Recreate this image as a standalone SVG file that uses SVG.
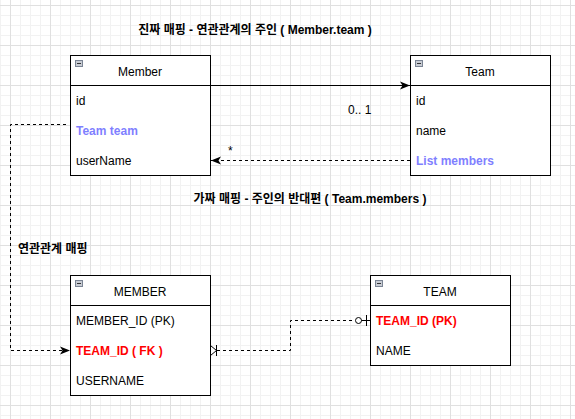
<svg xmlns="http://www.w3.org/2000/svg" width="575" height="419" viewBox="0 0 575 419">
<defs>
<pattern id="grid" x="10" y="5" width="40" height="40" patternUnits="userSpaceOnUse">
<path d="M10.5 0V40M20.5 0V40M30.5 0V40M0 10.5H40M0 20.5H40M0 30.5H40" stroke="#f2f2f2" stroke-width="1" fill="none"/>
<path d="M0.5 0V40M0 0.5H40" stroke="#e0e0e0" stroke-width="1" fill="none"/>
</pattern>
<marker id="arr" viewBox="0 0 10 10" refX="10" refY="5" markerWidth="10" markerHeight="10" markerUnits="userSpaceOnUse" orient="auto">
<path d="M0,1 L10,5 L0,9 L2.5,5 Z" fill="#000"/>
</marker>
<g id="icon">
<rect x="0.5" y="0.5" width="7" height="6" fill="#c8ccd4" stroke="#7a8494"/>
<line x1="2" y1="3.5" x2="6" y2="3.5" stroke="#333"/>
</g>
</defs>
<style>
text{font-family:"Liberation Sans",Arial,"Noto Sans CJK KR",sans-serif;font-size:12px;fill:#000}
.title{font-weight:bold}
.box{fill:#fff;stroke:#000;stroke-width:1}
.sep{stroke:#000;stroke-width:1}
.hdr{text-anchor:middle}
.blue{fill:#7f7fff;font-weight:bold}
.red{fill:#ff0000;font-weight:bold}
.dash{fill:none;stroke:#000;stroke-width:1;stroke-dasharray:3 3}
.solid{fill:none;stroke:#000;stroke-width:1}
</style>
<rect width="575" height="419" fill="#fff"/>
<rect width="575" height="419" fill="url(#grid)"/>

<g id="labels">
<text class="title" x="255" y="34" text-anchor="middle">진짜 매핑 - 연관관계의 주인 ( Member.team )</text>
<text class="title" x="310" y="203" text-anchor="middle">가짜 매핑 - 주인의 반대편 ( Team.members )</text>
<text class="title" x="18" y="253">연관관계 매핑</text>
</g>

<g id="connectors">
<line class="solid" x1="210.5" y1="85.5" x2="410" y2="85.5" marker-end="url(#arr)"/>
<text x="348" y="114">0.. 1</text>
<line class="dash" x1="410" y1="160.5" x2="211" y2="160.5" marker-end="url(#arr)"/>
<text x="228" y="155">*</text>
<polyline class="dash" points="66,124.5 10.5,124.5 10.5,350.5 70,350.5" marker-end="url(#arr)"/>
<polyline class="dash" points="217,350.5 290.5,350.5 290.5,320.5 355,320.5"/>
<path class="solid" d="M210.5,345.5 L216.5,350.5 L210.5,355.5 M216.5,345 V356"/>
<circle cx="358.5" cy="320.5" r="3" fill="#fff" stroke="#000"/>
<path class="solid" d="M361.5,320.5 H370.5 M366.5,315 V326"/>
</g>

<g id="Member">
<rect class="box" x="70.5" y="55.5" width="140" height="120"/>
<line class="sep" x1="70.5" y1="85.5" x2="210.5" y2="85.5"/>
<use href="#icon" x="75" y="60"/>
<text class="hdr" x="140" y="76">Member</text>
<text x="76" y="105">id</text>
<text class="blue" x="76" y="135">Team team</text>
<text x="76" y="165">userName</text>
</g>

<g id="Team">
<rect class="box" x="410.5" y="55.5" width="140" height="120"/>
<line class="sep" x1="410.5" y1="85.5" x2="550.5" y2="85.5"/>
<use href="#icon" x="415" y="60"/>
<text class="hdr" x="480" y="76">Team</text>
<text x="416" y="105">id</text>
<text x="416" y="135">name</text>
<text class="blue" x="416" y="165">List members</text>
</g>

<g id="MEMBER">
<rect class="box" x="70.5" y="275.5" width="140" height="120"/>
<line class="sep" x1="70.5" y1="305.5" x2="210.5" y2="305.5"/>
<use href="#icon" x="75" y="280"/>
<text class="hdr" x="140" y="296">MEMBER</text>
<text x="76" y="325">MEMBER_ID (PK)</text>
<text class="red" x="76" y="355">TEAM_ID ( FK )</text>
<text x="76" y="385">USERNAME</text>
</g>

<g id="TEAM">
<rect class="box" x="370.5" y="275.5" width="140" height="90"/>
<line class="sep" x1="370.5" y1="305.5" x2="510.5" y2="305.5"/>
<use href="#icon" x="375" y="280"/>
<text class="hdr" x="440" y="296">TEAM</text>
<text class="red" x="376" y="325">TEAM_ID (PK)</text>
<text x="376" y="355">NAME</text>
</g>
</svg>
